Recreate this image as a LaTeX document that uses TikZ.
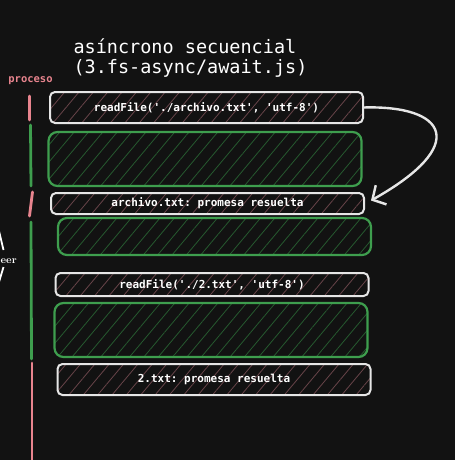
\documentclass[tikz,border=0pt]{standalone}
\usepackage{fontspec}
\setmonofont{DejaVu Sans Mono}
\usetikzlibrary{arrows.meta,patterns.meta}
\definecolor{bg}{HTML}{121212}
\definecolor{boxwhite}{HTML}{E6E6E6}
\definecolor{boxgreen}{HTML}{3E9E4E}
\definecolor{procpink}{HTML}{E8848E}
\definecolor{hatchpink}{HTML}{674449}
\definecolor{hatchgreen}{HTML}{26592F}

\begin{document}
\begin{tikzpicture}[x=1pt, y=-1pt,
    txtbox/.style={draw=boxwhite, line width=2pt, rounded corners=5pt, fill=bg,
        pattern={Lines[angle=50,distance=11pt,line width=0.8pt]}, pattern color=hatchpink,
        minimum width=313pt, text=white, font=\ttfamily\bfseries\fontsize{11}{13}\selectfont, inner sep=0pt},
    waitbox/.style={draw=boxgreen, line width=2.2pt, rounded corners=9pt, fill=bg,
        pattern={Lines[angle=50,distance=11pt,line width=0.8pt]}, pattern color=hatchgreen,
        minimum width=313pt},
    bar/.style={line width=2.8pt, line cap=round}]
    \useasboundingbox[fill=bg] (0,0) rectangle (455,460);

    % Title
    \node[anchor=west, text=white, font=\ttfamily\fontsize{18.5}{22}\selectfont] (title1) at (70,46) {asíncrono secuencial};
    \node[anchor=west, text=white, font=\ttfamily\fontsize{18.5}{22}\selectfont] (title2) at (70,68) {(3.fs-async/await.js)};
    \node[text=procpink, font=\ttfamily\bfseries\fontsize{10.5}{12}\selectfont] (proc) at (30.5,81) {proceso};

    % Steps
    \node[txtbox, minimum height=31pt] (read1) at (206.5,107.5) {readFile('./archivo.txt', 'utf-8')};
    \node[waitbox, minimum height=54pt] (wait1) at (205,159) {};
    \node[txtbox, minimum height=21pt] (done1) at (207.5,203.5) {archivo.txt: promesa resuelta};
    \node[waitbox, minimum height=37pt] (wait2) at (214.5,236.5) {};
    \node[txtbox, minimum height=23pt] (read2) at (212,284.5) {readFile('./2.txt', 'utf-8')};
    \node[waitbox, minimum height=54pt] (wait3) at (211,330) {};
    \node[txtbox, minimum height=31pt] (done2) at (214,379.5) {2.txt: promesa resuelta};

    % Process bars
    \draw[bar, procpink] (29.5,96) -- (29.5,120);
    \draw[bar, boxgreen] (30.5,125) -- (31,186);
    \draw[bar, procpink] (32.5,192) -- (29.5,216);
    \draw[bar, boxgreen] (31,222) -- (31.5,359);
    \draw[bar, procpink] (32,363) -- (32,462);

    % Cut-off mark on the left
    \draw[white, line width=1.8pt] (-1,231) -- (3.5,250);
    \draw[white, line width=1.8pt] (3.5,267) -- (-1,282);
    \node[anchor=west, text=white, inner sep=0pt, font=\bfseries\fontsize{10.5}{12}\selectfont] (eer) at (0.5,261) {eer};

    % Promise resolves
    \draw[boxwhite, line width=2.4pt, -{Straight Barb[length=10pt,width=22pt,line width=2.4pt]}]
        (read1.east) .. controls (447,105) and (470,145) .. ([xshift=6pt,yshift=3pt]done1.east);
\end{tikzpicture}
\end{document}
